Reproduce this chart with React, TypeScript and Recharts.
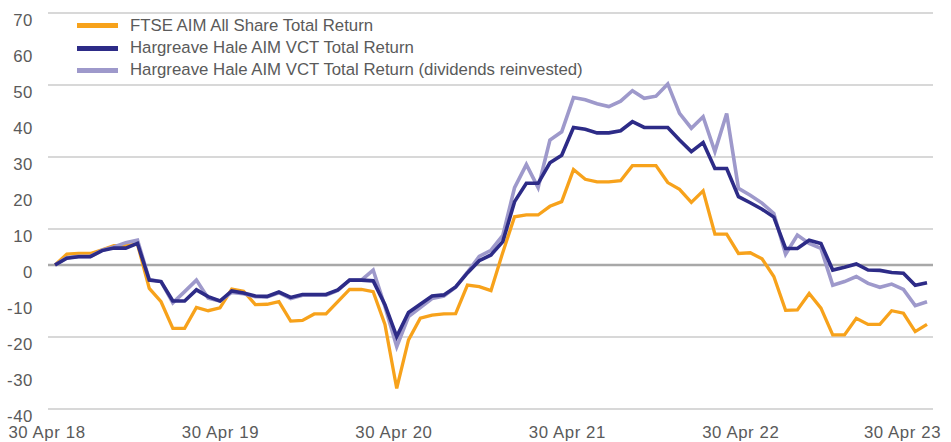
import { Line, LineChart, ReferenceLine, XAxis, YAxis } from "recharts";

// monthly-ish total return (%) since 30 Apr 18
const ftseAim = [
	0, 3.0, 3.2, 3.2, 4.2, 5.4, 5.4, 5.8, -6.5, -10.2, -17.6, -17.6, -11.8, -12.7, -11.9,
	-6.7, -7.3, -11.0, -10.9, -10.2, -15.6, -15.4, -13.6, -13.6, -10.2, -6.8, -6.8, -7.4, -16.5, -34.3,
	-20.8, -14.8, -13.9, -13.6, -13.5, -5.6, -6.0, -7.1, 3.5, 13.4, 13.9, 13.9, 16.3, 17.6, 26.5,
	23.8, 23.1, 23.1, 23.4, 27.6, 27.6, 27.6, 22.9, 21.0, 17.4, 20.6, 8.6, 8.6, 3.2, 3.4,
	1.7, -3.2, -12.6, -12.5, -7.9, -12.0, -19.4, -19.4, -14.8, -16.5, -16.5, -12.7, -13.4, -18.5, -16.5,
];

const hhVct = [
	0, 1.9, 2.3, 2.3, 4.0, 4.7, 4.7, 6.0, -4.2, -4.6, -10.0, -10.0, -6.9, -8.8, -10.0,
	-7.2, -7.8, -8.6, -8.7, -7.5, -9.0, -8.2, -8.2, -8.2, -6.9, -4.2, -4.2, -4.4, -11.0, -19.9,
	-13.2, -10.9, -8.6, -8.3, -6.1, -2.2, 1.2, 2.8, 6.5, 17.6, 22.7, 22.7, 28.4, 30.5, 38.2,
	37.7, 36.7, 36.7, 37.3, 39.8, 38.2, 38.2, 38.2, 34.7, 31.5, 34.0, 26.8, 26.8, 19.0, 17.3,
	15.5, 13.3, 4.6, 4.6, 6.9, 6.0, -1.4, -0.6, 0.3, -1.4, -1.5, -2.1, -2.3, -5.6, -4.9,
];

const hhVctReinvested = [
	0, 2.0, 2.4, 2.4, 4.1, 5.0, 6.2, 6.9, -4.0, -4.6, -10.5, -7.4, -4.2, -9.2, -10.0,
	-7.6, -8.0, -8.8, -8.9, -7.7, -9.3, -8.4, -8.4, -8.4, -7.1, -4.2, -4.2, -1.4, -11.5, -22.7,
	-14.3, -11.8, -9.3, -8.6, -6.2, -2.0, 2.4, 4.1, 8.2, 21.5, 27.9, 21.5, 34.7, 37.0, 46.5,
	45.9, 44.8, 44.0, 45.5, 48.4, 46.3, 46.9, 50.3, 42.1, 38.0, 41.2, 31.5, 42.1, 21.3, 19.4,
	17.2, 14.3, 3.0, 8.3, 6.0, 4.6, -5.6, -4.6, -3.2, -5.1, -6.2, -5.3, -6.8, -11.3, -10.2,
];

const xTickIndex = [0, 15, 30, 45, 60, 74];
const xTickLabels = ["30 Apr 18", "30 Apr 19", "30 Apr 20", "30 Apr 21", "30 Apr 22", "30 Apr 23"];
const yTicks = [-40, -30, -20, -10, 0, 10, 20, 30, 40, 50, 60, 70];
const gridValues = [70, 50, 30, 10, -20, -40];

const seriesNames = [
	"FTSE AIM All Share Total Return",
	"Hargreave Hale AIM VCT Total Return",
	"Hargreave Hale AIM VCT Total Return (dividends reinvested)",
];

const ORANGE = "#F7A21B";
const NAVY = "#2D2B87";
const LILAC = "#9E99CB";
const TEXT = "#5A5A5A";
const FONT = "'Liberation Sans', Arial, sans-serif";
const FONT_SIZE = 16.8;

const data = ftseAim.map((v, i) => ({
	i,
	ftse: v,
	vct: hhVct[i],
	vctDr: hhVctReinvested[i],
}));

function XTick({ x, y, payload, index }: any) {
	const pos = xTickIndex.indexOf(payload.value);
	const k = pos < 0 ? index : pos;
	const cx = Math.min(x - 8 - 3.3 * k, 951 - 40);
	return (
		<text
			x={cx}
			y={y + 29}
			textAnchor="middle"
			fill={TEXT}
			fontSize={FONT_SIZE}
			fontFamily={FONT}
			letterSpacing={0.6}
		>
			{xTickLabels[k]}
		</text>
	);
}

function YTick({ x, y, payload }: any) {
	return (
		<text
			x={x - 15}
			y={y + 12.5}
			textAnchor="end"
			fill={TEXT}
			fontSize={FONT_SIZE}
			fontFamily={FONT}
			letterSpacing={0.6}
		>
			{payload.value}
		</text>
	);
}

function LegendBox() {
	const colors = [ORANGE, NAVY, LILAC];
	return (
		<div
			style={{
				position: "absolute",
				left: 77,
				top: 14.6,
				fontFamily: FONT,
				fontSize: FONT_SIZE,
				color: TEXT,
			}}
		>
			{seriesNames.map((name, k) => (
				<div
					key={name}
					style={{ display: "flex", alignItems: "center", height: 22.3, lineHeight: "22.3px", whiteSpace: "nowrap" }}
				>
					<span style={{ display: "inline-block", width: 41, height: 5, background: colors[k], marginRight: 12 }} />
					<span>{name}</span>
				</div>
			))}
		</div>
	);
}

export default function App() {
	return (
		<div style={{ position: "absolute", left: 0, top: 0, width: 951, height: 442, background: "#fff" }}>
			<LineChart
				width={951}
				height={442}
				data={data}
				margin={{ top: 13, right: 18, bottom: 0, left: 0 }}
			>
				<XAxis
					dataKey="i"
					type="number"
					domain={[0, 74]}
					ticks={xTickIndex}
					interval={0}
					padding={{ left: 7, right: 6 }}
					axisLine={false}
					tickLine={false}
					tickSize={0}
					tickMargin={0}
					height={33}
					tick={<XTick />}
				/>
				<YAxis
					domain={[-40, 70]}
					ticks={yTicks}
					interval={0}
					width={48}
					axisLine={false}
					tickLine={false}
					tickSize={0}
					tickMargin={0}
					tick={<YTick />}
				/>
				{gridValues.map((v) => (
					<ReferenceLine key={v} y={v} stroke="#CBCBCB" strokeWidth={1.5} />
				))}
				<ReferenceLine y={0} stroke="#A8A8A8" strokeWidth={2.5} />
				<Line
					type="linear"
					dataKey="ftse"
					stroke={ORANGE}
					strokeWidth={3.3}
					dot={false}
					isAnimationActive={false}
				/>
				<Line
					type="linear"
					dataKey="vctDr"
					stroke={LILAC}
					strokeWidth={3.6}
					dot={false}
					isAnimationActive={false}
				/>
				<Line
					type="linear"
					dataKey="vct"
					stroke={NAVY}
					strokeWidth={3.6}
					dot={false}
					isAnimationActive={false}
				/>
			</LineChart>
			<LegendBox />
		</div>
	);
}
